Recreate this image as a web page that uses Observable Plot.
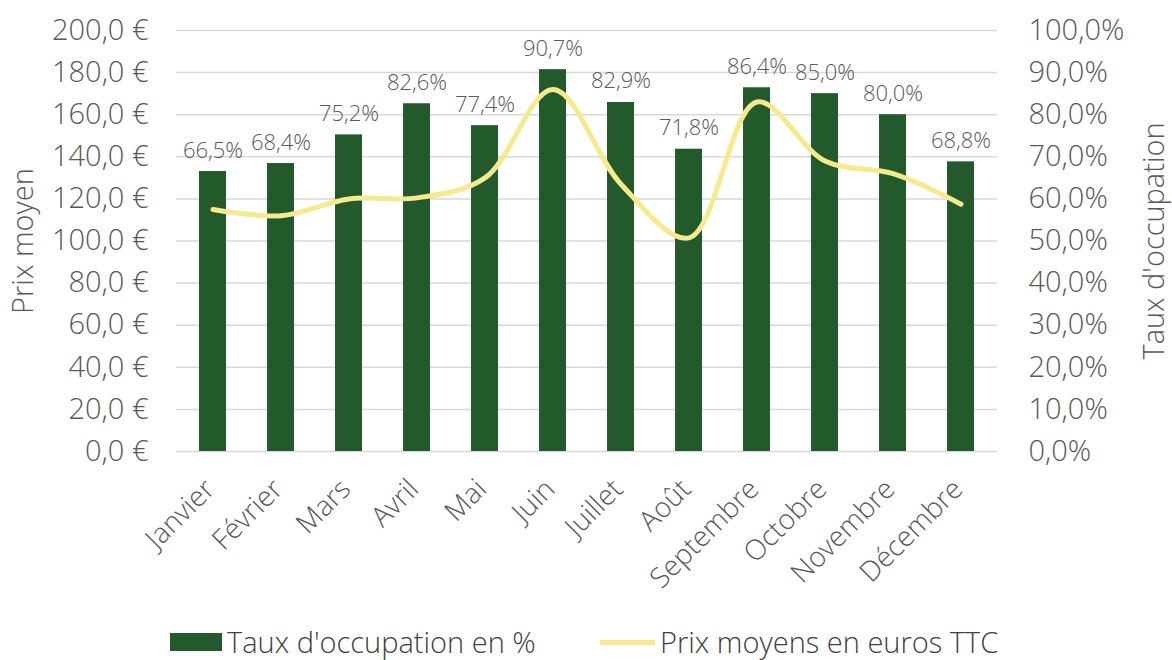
<!DOCTYPE html>
<html><head><meta charset="utf-8">
<script src="https://cdn.jsdelivr.net/npm/d3@7"></script>
<script src="https://cdn.jsdelivr.net/npm/@observablehq/plot@0.6"></script>
<style>
body{margin:0;background:#fff;font-family:"Open Sans",sans-serif;font-weight:300;}
#wrap{position:relative;width:1172px;height:660px;overflow:hidden;}
#legend{position:absolute;top:624px;left:0;width:1172px;height:36px;font-size:29px;line-height:36px;color:#404040;}
.item{position:absolute;top:0;display:flex;align-items:center;height:36px;white-space:nowrap;}
svg text{font-weight:300;}
</style></head><body><div id="wrap"><div id="chart"></div><div id="legend"></div></div>
<script>
const months = ["Janvier","Février","Mars","Avril","Mai","Juin","Juillet","Août","Septembre","Octobre","Novembre","Décembre"];
const occupancy = [66.5,68.4,75.2,82.6,77.4,90.7,82.9,71.8,86.4,85.0,80.0,68.8];
const prices = [115,112,120,120.5,130,172,127,101.5,166,138,132,117.5];
const priceTicks = [0,20,40,60,80,100,120,140,160,180,200];
const seriesNames = ["Taux d'occupation en %","Prix moyens en euros TTC"];
const colors = ["#225a2c","#f6ea8f"];

const data = months.map((m,i)=>({month:m, occ:occupancy[i], price:prices[i]}));
const fmt = v => v.toFixed(1).replace(".", ",");

const chart = Plot.plot({
  width:1172, height:612,
  marginTop:30, marginBottom:161, marginLeft:176, marginRight:175,
  style:{fontFamily:"'Open Sans', sans-serif", fontSize:"29px", color:"#595959", background:"#fff"},
  x:{domain:months, paddingInner:0.6, paddingOuter:0.3, label:null},
  y:{domain:[0,200], label:null},
  marks:[
    Plot.gridY(priceTicks,{stroke:"#d9d9d9", strokeOpacity:1, strokeWidth:1.5}),
    Plot.barY(data,{x:"month", y:d=>d.occ*2, fill:colors[0]}),
    Plot.text(data,{x:"month", y:d=>d.occ*2, text:d=>fmt(d.occ)+"%", lineAnchor:"bottom", dy:-14, fontSize:22, fill:"#595959"}),
    Plot.line(data,{x:"month", y:"price", curve:"catmull-rom", stroke:colors[1], strokeWidth:5}),
    Plot.axisY(priceTicks,{anchor:"left", tickSize:0, tickPadding:28, tickFormat:d=>fmt(d)+" €", label:"Prix moyen", labelAnchor:"center", labelArrow:"none", labelOffset:164}),
    Plot.axisY(priceTicks,{anchor:"right", tickSize:0, tickPadding:31, tickFormat:d=>fmt(d/2)+"%", label:"Taux d'occupation", labelAnchor:"center", labelArrow:"none", labelOffset:166}),
    Plot.axisX({tickRotate:-45, tickSize:0, tickPadding:12, dx:-3, dy:21, label:null, fontSize:28})
  ]
});
document.getElementById("chart").append(chart);

const legend = document.getElementById("legend");
const items = [
  {left:170, sw:`<div style="width:52px;height:18px;background:${colors[0]};margin-right:5px"></div>`},
  {left:600, sw:`<div style="width:55px;height:5px;background:${colors[1]};margin-right:5px"></div>`}
];
items.forEach((it,i)=>{
  const d = document.createElement("div");
  d.className="item"; d.style.left=it.left+"px";
  d.innerHTML = it.sw + `<span>${seriesNames[i]}</span>`;
  legend.append(d);
});
</script>
</body></html>
